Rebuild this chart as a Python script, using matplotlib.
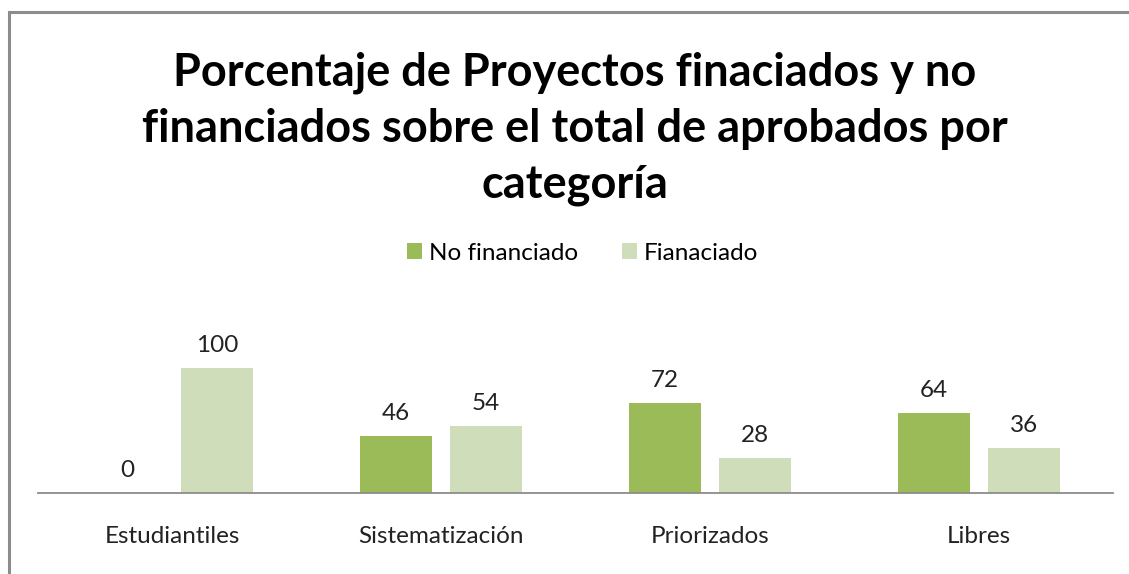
import numpy as np
import matplotlib
matplotlib.use('Agg')
import matplotlib.pyplot as plt
from matplotlib.patches import Rectangle

categories = ['Estudiantiles', 'Sistematización', 'Priorizados', 'Libres']
no_financiado = [0, 46, 72, 64]
financiado = [100, 54, 28, 36]
series_names = ['No financiado', 'Fianaciado']
title = 'Porcentaje de Proyectos finaciados y no\nfinanciados sobre el total de aprobados por\ncategoría'

dark = '#9BBB59'
light = '#D0DDBB'
W, H = 1129, 574

plt.rcParams['font.family'] = ['Lato', 'DejaVu Sans']

fig = plt.figure(figsize=(W / 100, H / 100), dpi=100)

# chart-area border (only left/top visible)
fig.patches.append(Rectangle((9 / W, -0.1), 1.2, (H - 12) / H + 0.1,
                             transform=fig.transFigure, fill=False,
                             edgecolor='#8c8c8c', linewidth=2.2))

ax = fig.add_axes([38 / W, (H - 493) / H, (1113 - 38) / W, 150 / H])
x = np.arange(len(categories))
bw = 72 / 268.75
off = 45 / 268.75
b1 = ax.bar(x - off, no_financiado, bw, color=dark, label=series_names[0])
b2 = ax.bar(x + off, financiado, bw, color=light, label=series_names[1])

for bars, vals in ((b1, no_financiado), (b2, financiado)):
    for r, v in zip(bars, vals):
        ax.annotate(str(v), (r.get_x() + r.get_width() / 2, v),
                    xytext=(0, 12), textcoords='offset pixels',
                    ha='center', va='bottom', fontsize=17.5, color='#222222')

ax.set_xlim(-0.5, len(categories) - 0.5)
ax.set_ylim(0, 120)
ax.set_xticks(x)
ax.set_xticklabels(categories, fontsize=17.5, color='#222222')
ax.tick_params(axis='x', length=0, pad=24)
ax.set_yticks([])
for s in ('top', 'right', 'left'):
    ax.spines[s].set_visible(False)
ax.spines['bottom'].set_color('#8c8c8c')
ax.spines['bottom'].set_linewidth(1.3)

fig.text(575 / W, 1 - 129 / H, title, ha='center', va='center',
         fontsize=32.5, fontweight='bold', linespacing=1.4, color='black')

fig.legend(handles=[b1, b2], loc='center', bbox_to_anchor=(583 / W, 1 - 253 / H),
           ncol=2, frameon=False, fontsize=17.5, handlelength=0.6, handleheight=0.6,
           handletextpad=0.3, columnspacing=1.8)

fig.savefig('out.png', dpi=100)
